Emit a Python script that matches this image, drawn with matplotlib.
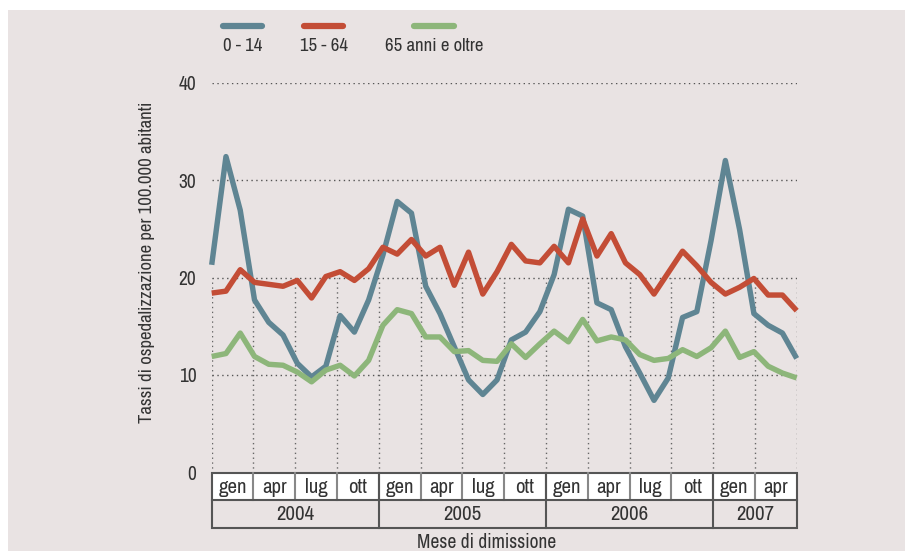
import matplotlib
matplotlib.use("Agg")
import matplotlib.pyplot as plt
from matplotlib.patches import Rectangle
from matplotlib.lines import Line2D
import numpy as np

plt.rcParams['font.family'] = ['Archivo Narrow', 'Liberation Sans', 'DejaVu Sans']

# ---------------- data ----------------
series_names = ["0 - 14", "15 - 64", "65 anni e oltre"]
series_colors = ["#5f8593", "#c34d36", "#8db67a"]

age_0_14 = [21.3, 32.4, 26.9, 17.7, 15.4, 14.1, 11.2, 9.8, 10.9, 16.1, 14.4, 17.7,
            22.3, 27.8, 26.6, 19.1, 16.3, 12.9, 9.5, 8.0, 9.5, 13.6, 14.4, 16.5,
            20.3, 27.0, 26.3, 17.4, 16.7, 12.9, 10.2, 7.4, 9.7, 15.9, 16.5, 23.8,
            32.0, 24.9, 16.3, 15.1, 14.3, 11.7]
age_15_64 = [18.4, 18.6, 20.8, 19.5, 19.3, 19.1, 19.7, 17.9, 20.1, 20.6, 19.7, 20.9,
             23.1, 22.4, 23.9, 22.2, 23.1, 19.2, 22.6, 18.3, 20.6, 23.4, 21.7, 21.5,
             23.2, 21.5, 26.0, 22.2, 24.5, 21.5, 20.3, 18.3, 20.5, 22.7, 21.2, 19.5,
             18.3, 19.0, 19.9, 18.2, 18.2, 16.6]
age_65_plus = [11.9, 12.2, 14.3, 11.9, 11.1, 11.0, 10.3, 9.3, 10.5, 11.0, 9.9, 11.5,
               15.1, 16.7, 16.3, 13.9, 13.9, 12.4, 12.5, 11.5, 11.4, 13.2, 11.8, 13.2,
               14.5, 13.4, 15.7, 13.5, 13.9, 13.6, 12.1, 11.5, 11.7, 12.6, 11.9, 12.8,
               14.5, 11.8, 12.4, 10.9, 10.2, 9.7]
series_values = [age_0_14, age_15_64, age_65_plus]

years = ["2004", "2005", "2006", "2007"]
months_per_year = [12, 12, 12, 6]
quarter_labels = ["gen", "apr", "lug", "ott"]
y_ticks = [0, 10, 20, 30, 40]
y_label = "Tassi di ospedalizzazione per 100.000 abitanti"
x_label = "Mese di dimissione"

# ---------------- figure ----------------
W, H = 905, 551
BG = "#e9e3e3"
TXT = "#333333"
fig = plt.figure(figsize=(W / 100, H / 100), dpi=100)
fig.patch.set_facecolor("white")
fig.patches.append(Rectangle((8 / W, 0), 1 - 8 / W, 1 - 10 / H, transform=fig.transFigure,
                             facecolor=BG, edgecolor="none", zorder=-10))

def fx(px):
    return px / W

def fy(py):
    return 1 - py / H

ax_l, ax_r, ax_t, ax_b = 211.7, 796.7, 82.5, 472.5
ax = fig.add_axes([fx(ax_l), fy(ax_b), fx(ax_r - ax_l), (ax_b - ax_t) / H])
ax.set_facecolor("none")
n_months = sum(months_per_year)
ax.set_xlim(0, n_months)
ax.set_ylim(0, 40)
for s in ax.spines.values():
    s.set_visible(False)
ax.tick_params(axis="both", length=0)
ax.set_xticks([])
ax.set_yticks(y_ticks)
ax.set_yticklabels([str(t) for t in y_ticks], fontsize=14, color=TXT)
ax.tick_params(axis="y", pad=11)

# gridlines
for t in y_ticks[1:]:
    ax.axhline(t, color="#555555", lw=1.0, ls=(0, (1, 2.5)), zorder=1)
for q in range(0, n_months + 1, 3):
    ax.vlines(q, 0, 20, color="#666666", lw=1.0, linestyles=[(0, (1, 2.5))], zorder=1)

x = np.linspace(0, n_months, len(age_0_14))
for vals, col in zip(series_values, series_colors):
    ax.plot(x, vals, color=col, lw=3.9, solid_joinstyle="round",
            solid_capstyle="butt", zorder=3, clip_on=False)

# ---------------- month/year table ----------------
tb_t, tb_b = 472.7, 527.7
tax = fig.add_axes([fx(ax_l), fy(tb_b), fx(ax_r - ax_l), (tb_b - tb_t) / H])
tax.set_xlim(0, n_months)
tax.set_ylim(0, 2)
tax.axis("off")
tax.add_patch(Rectangle((0, 1), n_months, 1, facecolor="white", edgecolor="none"))
for q in range(0, n_months, 3):
    tax.text(q + 1.5, 1.45, quarter_labels[(q // 3) % 4], ha="center", va="center",
             fontsize=15, color=TXT)
    if q > 0:
        tax.plot([q, q], [1, 2], color="#888888", lw=1.5, clip_on=False)
start = 0
for yr, m in zip(years, months_per_year):
    tax.text(start + m / 2, 0.48, yr, ha="center", va="center", fontsize=15, color=TXT)
    if start > 0:
        tax.plot([start, start], [0, 2], color="#555555", lw=1.5, clip_on=False)
    start += m
tax.plot([0, n_months], [1, 1], color="#555555", lw=1.5, clip_on=False)
tax.add_patch(Rectangle((0, 0), n_months, 2, facecolor="none", edgecolor="#555555",
                        lw=1.5, clip_on=False))

# ---------------- labels ----------------
fig.text(fx(147), fy(262), y_label, rotation=90, ha="center", va="center",
         fontsize=13.5, color=TXT)
fig.text(fx(487), fy(543), x_label, ha="center", va="center", fontsize=14, color=TXT)

# ---------------- legend ----------------
leg_x = [(222.7, 261.7), (304, 343.3), (414, 454)]
for (x0, x1), name, col in zip(leg_x, series_names, series_colors):
    fig.lines.append(Line2D([fx(x0), fx(x1)], [fy(26), fy(26)], transform=fig.transFigure,
                            color=col, lw=4.5, solid_capstyle="round"))
    fig.text(fx((x0 + x1) / 2), fy(46), name, ha="center", va="center",
             fontsize=13.5, color=TXT)

fig.savefig("out.png", dpi=100, facecolor=fig.get_facecolor())
